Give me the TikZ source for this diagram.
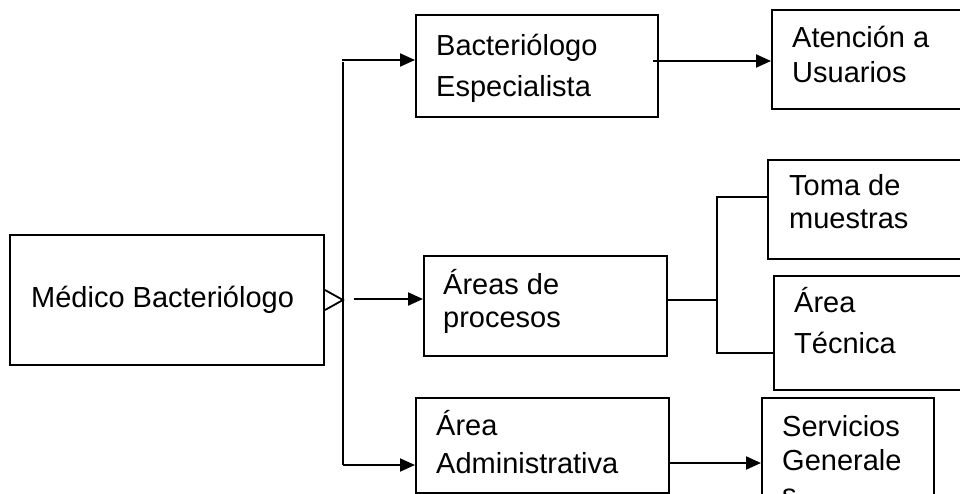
\documentclass[tikz,border=0pt]{standalone}
\usepackage{fontspec}
\setmainfont{Liberation Sans}
\usetikzlibrary{arrows.meta}
\begin{document}
\begin{tikzpicture}[x=1pt,y=-1pt,
  box/.style={draw, line width=1.6pt, rectangle, inner sep=0pt, anchor=north west},
  lbl/.style={anchor=base west, align=left, inner sep=0pt},
  conn/.style={line width=2pt},
  arr/.style={conn, -{Triangle[length=15pt,width=13pt]}},
  ]
\useasboundingbox (0,0) rectangle (960,493);
\clip (0,0) rectangle (960,493);
% boxes
\node[box, minimum width=314pt, minimum height=130pt] (medico) at (9,234) {};
\node[box, minimum width=242pt, minimum height=102pt] (bact) at (415,14) {};
\node[box, minimum width=230pt, minimum height=99pt] (aten) at (771,9) {};
\node[box, minimum width=243pt, minimum height=100pt] (areas) at (423,255) {};
\node[box, minimum width=230pt, minimum height=99pt] (toma) at (767,159) {};
\node[box, minimum width=230pt, minimum height=114pt] (tecnica) at (773,275) {};
\node[box, minimum width=253pt, minimum height=95pt] (admin) at (415,397) {};
\node[box, minimum width=172pt, minimum height=130pt] (serv) at (761,397) {};
% texts (anchor = baseline of the last line)
\node[lbl, font=\fontsize{29}{36}\selectfont] (tmedico) at (31,307) {Médico Bacteriólogo};
\node[lbl, font=\fontsize{29}{41}\selectfont] (tbact) at (436,96) {Bacteriólogo\\Especialista};
\node[lbl, font=\fontsize{29}{35}\selectfont] (taten) at (792,82) {Atención a\\Usuarios};
\node[lbl, font=\fontsize{29}{33}\selectfont] (ttoma) at (789,228) {Toma de\\muestras};
\node[lbl, font=\fontsize{29}{41}\selectfont] (ttec) at (794,353) {Área\\Técnica};
\node[lbl, font=\fontsize{29}{33}\selectfont] (tareas) at (443,327) {Áreas de\\procesos};
\node[lbl, font=\fontsize{29}{38}\selectfont] (tadmin) at (436,473) {Área\\Administrativa};
\node[lbl, font=\fontsize{29}{34}\selectfont] (tserv) at (782,504) {Servicios\\Generale\\s};
% trunk
\coordinate (ttop) at (343,62);
\coordinate (tbot) at (343,465);
\coordinate (t1) at (342,60);
\draw[conn] (ttop) -- (tbot);
\draw[arr] (t1) -- (t1 -| bact.west);
\draw[arr] (tbot) -- (tbot -| admin.west);
% chevron at medico
\coordinate (chev) at (343,300);
\draw[line width=1.8pt] ([shift={(-18,-10)}]chev) -- (chev) -- ([shift={(-18,10)}]chev);
% to areas
\coordinate (a0) at (354,299);
\draw[arr] (a0) -- (a0 -| areas.west);
% bact -> aten
\coordinate (b0) at (653,61);
\draw[arr] (b0) -- (b0 -| aten.west);
% bracket
\coordinate (bj) at (717,300);
\coordinate (bt) at (717,197);
\coordinate (bb) at (717,353);
\draw[conn] (bj -| areas.east) -- (bj);
\draw[conn] (bt -| toma.west) -- (bt) -- (bb) -- (bb -| tecnica.west);
% admin -> serv
\coordinate (s0) at (668,463);
\draw[arr] (s0) -- (s0 -| serv.west);
\end{tikzpicture}
\end{document}
